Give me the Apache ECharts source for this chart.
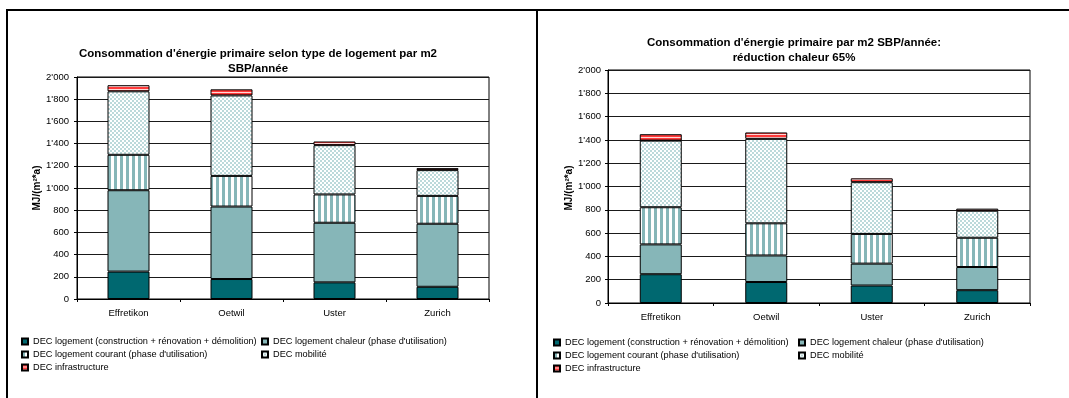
<!DOCTYPE html>
<html>
<head>
<meta charset="utf-8">
<script src="https://cdn.jsdelivr.net/npm/echarts@6/dist/echarts.min.js"></script>
<style>
html,body{margin:0;padding:0;background:#fff;}
#chart{width:1069px;height:398px;}
</style>
</head>
<body>
<div id="chart"></div>
<script>
// ---- Data ----
const categories = ['Effretikon', 'Oetwil', 'Uster', 'Zurich'];
const seriesNames = [
  'DEC logement (construction + rénovation + démolition)',
  'DEC logement chaleur (phase d\'utilisation)',
  'DEC logement courant (phase d\'utilisation)',
  'DEC mobilité',
  'DEC infrastructure'
];
const construction = [247, 180, 150, 110];
const chaleurLeft = [733, 653, 537, 568];
const chaleurRight = [256, 228, 188, 199];
const courant = [319, 276, 255, 251];
const mobilite = [572, 725, 444, 232];
const infrastructure = [55, 55, 33, 18];
const titleLeft = 'Consommation d\'énergie primaire selon type de logement par m2\nSBP/année';
const titleRight = 'Consommation d\'énergie primaire par m2 SBP/année:\nréduction chaleur 65%';
const yAxisName = 'MJ/(m²*a)';

// ---- Patterns ----
function makeCanvas(w, h, draw) {
  const c = document.createElement('canvas');
  c.width = w; c.height = h;
  draw(c.getContext('2d'));
  return c;
}
const stripeV = makeCanvas(6, 6, g => {
  g.fillStyle = '#ffffff'; g.fillRect(0, 0, 6, 6);
  g.fillStyle = '#86b6b8'; g.fillRect(0, 0, 3, 6);
});
const checker = makeCanvas(4, 4, g => {
  g.fillStyle = '#ffffff'; g.fillRect(0, 0, 4, 4);
  g.fillStyle = '#bcd9da'; g.fillRect(0, 0, 2, 2); g.fillRect(2, 2, 2, 2);
});
const stripeH = makeCanvas(3, 3, g => {
  g.fillStyle = '#ffd6d6'; g.fillRect(0, 0, 3, 3);
  g.fillStyle = '#ff3a3a'; g.fillRect(0, 0, 3, 2);
});
const fills = [
  '#006870',
  '#86b6b8',
  { image: stripeV, repeat: 'repeat' },
  { image: checker, repeat: 'repeat' },
  { image: stripeH, repeat: 'repeat' }
];

const FONT = '"Liberation Sans", Arial, sans-serif';

function fmt(v) { return String(v).replace(/\B(?=(\d{3})+(?!\d))/g, "'"); }

function makeGrid(g) {
  return Object.assign({ show: true, borderColor: '#000', borderWidth: 1, backgroundColor: '#fff' }, g);
}
function makeX(idx, margin) {
  return {
    type: 'category', gridIndex: idx, data: categories,
    axisLine: { lineStyle: { color: '#000', width: 1 } },
    axisTick: { show: true, length: 3, lineStyle: { color: '#000' } },
    axisLabel: { color: '#000', fontFamily: FONT, fontSize: 9.5, margin: margin }
  };
}
function makeY(idx, margin) {
  return {
    type: 'value', gridIndex: idx, min: 0, max: 2000, interval: 200,
    axisLine: { show: true, lineStyle: { color: '#000', width: 1 } },
    axisTick: { show: true, length: 3, lineStyle: { color: '#000' } },
    splitLine: { lineStyle: { color: '#1a1a1a', width: 1 } },
    axisLabel: { color: '#000', fontFamily: FONT, fontSize: 9.5, margin: margin, formatter: fmt }
  };
}
function makeSeries(idx, chaleur) {
  const vals = [construction, chaleur, courant, mobilite, infrastructure];
  return vals.map((d, i) => ({
    name: seriesNames[i], type: 'bar', stack: 's' + idx,
    xAxisIndex: idx, yAxisIndex: idx, barWidth: 42,
    data: d,
    itemStyle: { color: fills[i], borderColor: '#000', borderWidth: 1 },
    emphasis: { disabled: true }
  }));
}
function makeLegends(x1, x2, y) {
  const base = {
    orient: 'horizontal', padding: 0, itemWidth: 6, itemHeight: 6, itemGap: 0,
    icon: 'rect', selectedMode: false,
    textStyle: { color: '#000', fontFamily: FONT, fontSize: 9.2 }
  };
  return [
    Object.assign({}, base, { left: x1, top: y[0] - 6, data: [seriesNames[0]] }),
    Object.assign({}, base, { left: x2, top: y[0] - 6, data: [seriesNames[1]] }),
    Object.assign({}, base, { left: x1, top: y[1] - 6, data: [seriesNames[2]] }),
    Object.assign({}, base, { left: x2, top: y[1] - 6, data: [seriesNames[3]] }),
    Object.assign({}, base, { left: x1, top: y[2] - 6, data: [seriesNames[4]] })
  ];
}
function titleText(x, y, txt) {
  return {
    type: 'text', x: x, y: y,
    style: { text: txt, fill: '#000', font: 'bold 11.5px ' + FONT, textAlign: 'center', textVerticalAlign: 'top', lineHeight: 15 }
  };
}
function axisName(x, y) {
  return {
    type: 'text', x: x, y: y, rotation: Math.PI / 2,
    style: { text: yAxisName, fill: '#000', font: 'bold 10px ' + FONT, textAlign: 'center', textVerticalAlign: 'middle' }
  };
}

const chart = echarts.init(document.getElementById('chart'), null, { renderer: 'canvas' });
chart.setOption({
  animation: false,
  backgroundColor: '#fff',
  grid: [
    makeGrid({ left: 77, top: 77, width: 412, height: 222 }),
    makeGrid({ left: 608, top: 70, width: 422, height: 233 })
  ],
  xAxis: [makeX(0, 9), makeX(1, 9)],
  yAxis: [makeY(0, 8), makeY(1, 7)],
  legend: makeLegends(21, 261, [343, 356, 369]).concat(makeLegends(553, 798, [344, 357, 370])),
  series: makeSeries(0, chaleurLeft).concat(makeSeries(1, chaleurRight)),
  graphic: [
    { type: 'line', shape: { x1: 7, y1: 10, x2: 1069, y2: 10 }, style: { stroke: '#000', lineWidth: 2 } },
    { type: 'line', shape: { x1: 7, y1: 9, x2: 7, y2: 398 }, style: { stroke: '#000', lineWidth: 2 } },
    { type: 'line', shape: { x1: 537, y1: 9, x2: 537, y2: 398 }, style: { stroke: '#000', lineWidth: 2 } },
    titleText(258, 46.5, titleLeft),
    titleText(794, 35.5, titleRight),
    axisName(37, 188),
    axisName(569, 188)
  ]
});
</script>
</body>
</html>
